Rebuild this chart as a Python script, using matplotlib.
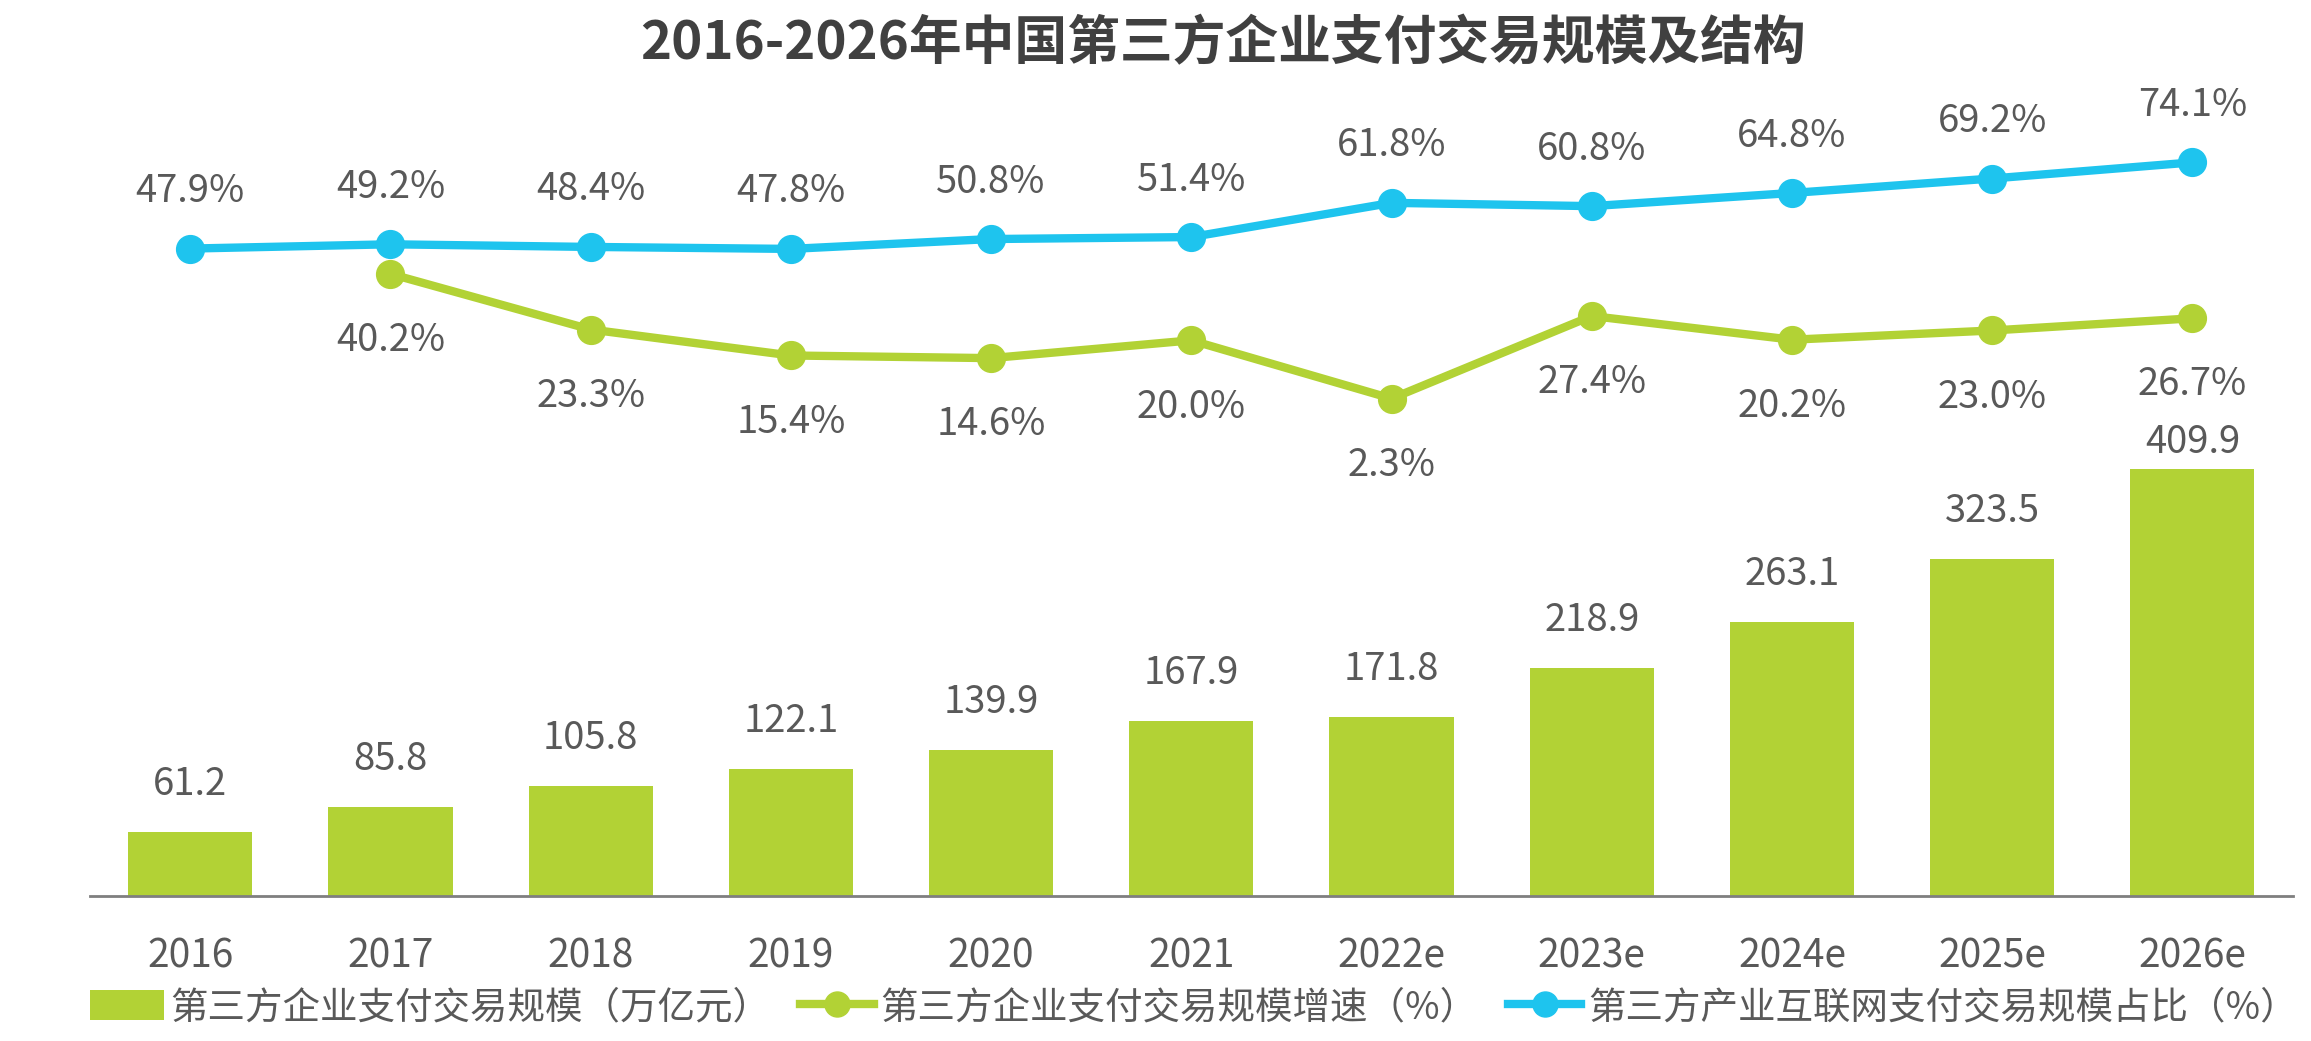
import numpy as np
import matplotlib
matplotlib.use('Agg')
import matplotlib.pyplot as plt
from matplotlib.lines import Line2D
from matplotlib.patches import Patch

plt.rcParams['font.family'] = ['Noto Sans CJK SC', 'DejaVu Sans']

years = ['2016', '2017', '2018', '2019', '2020', '2021', '2022e', '2023e', '2024e', '2025e', '2026e']
scale = [61.2, 85.8, 105.8, 122.1, 139.9, 167.9, 171.8, 218.9, 263.1, 323.5, 409.9]
growth = [None, 40.2, 23.3, 15.4, 14.6, 20.0, 2.3, 27.4, 20.2, 23.0, 26.7]
share = [47.9, 49.2, 48.4, 47.8, 50.8, 51.4, 61.8, 60.8, 64.8, 69.2, 74.1]

green = '#B2D235'
cyan = '#1EC4EE'
gray = '#595959'

fig = plt.figure(figsize=(23.11, 10.41), dpi=100)
ax = fig.add_axes([0.039, 0.1393, 0.953, 0.7262])
x = np.arange(len(years))

# bars
ax.bar(x, scale, width=0.62, color=green, zorder=2)
bar_label_nudge = {10: -15}  # last label sits lower to clear the growth label
for i, (xi, v) in enumerate(zip(x, scale)):
    ax.annotate(f'{v:.1f}', (xi, v), xytext=(0, 34 + bar_label_nudge.get(i, 0)),
                textcoords='offset points', ha='center', va='center', fontsize=27.5, color=gray)
ax.set_xlim(-0.5, len(years) - 0.5)
ax.set_ylim(0, 725.5)
ax.set_xticks(x)
ax.set_xticklabels(years, fontsize=28, color=gray)
ax.tick_params(axis='x', length=0, pad=29)
ax.set_yticks([])
for s in ['top', 'left', 'right']:
    ax.spines[s].set_visible(False)
ax.spines['bottom'].set_color('#7f7f7f')
ax.spines['bottom'].set_linewidth(2)

# lines on a shared percent axis
ax2 = ax.twinx()
ax2.set_ylim(-148.9, 80.9)
ax2.set_yticks([])
for s in ax2.spines.values():
    s.set_visible(False)

gx = [xi for xi, g in zip(x, growth) if g is not None]
gy = [g for g in growth if g is not None]
ax2.plot(gx, gy, color=green, lw=6, marker='o', ms=20, zorder=3)
ax2.plot(x, share, color=cyan, lw=6, marker='o', ms=20, zorder=4)

for xi, v in zip(gx, gy):
    ax2.annotate(f'{v:.1f}%', (xi, v), xytext=(0, -48), textcoords='offset points',
                 ha='center', va='center', fontsize=27.5, color=gray)
for xi, v in zip(x, share):
    ax2.annotate(f'{v:.1f}%', (xi, v), xytext=(0, 41), textcoords='offset points',
                 ha='center', va='center', fontsize=27.5, color=gray)

fig.text(0.529, 0.958, '2016-2026年中国第三方企业支付交易规模及结构', ha='center', va='center',
         fontsize=38, fontweight='bold', color='#404040')

handles = [
    Patch(facecolor=green, edgecolor='none'),
    Line2D([0], [0], color=green, lw=6, marker='o', ms=18),
    Line2D([0], [0], color=cyan, lw=6, marker='o', ms=18),
]
labels = ['第三方企业支付交易规模（万亿元）', '第三方企业支付交易规模增速（%）', '第三方产业互联网支付交易规模占比（%）']
fig.legend(handles, labels, loc='center left', bbox_to_anchor=(0.039, 0.032), ncol=3,
           frameon=False, fontsize=27, handlelength=1.96, handleheight=0.85, handletextpad=0.18,
           columnspacing=0.8, borderpad=0, borderaxespad=0, labelcolor=gray)

fig.savefig('out.png', dpi=100)
